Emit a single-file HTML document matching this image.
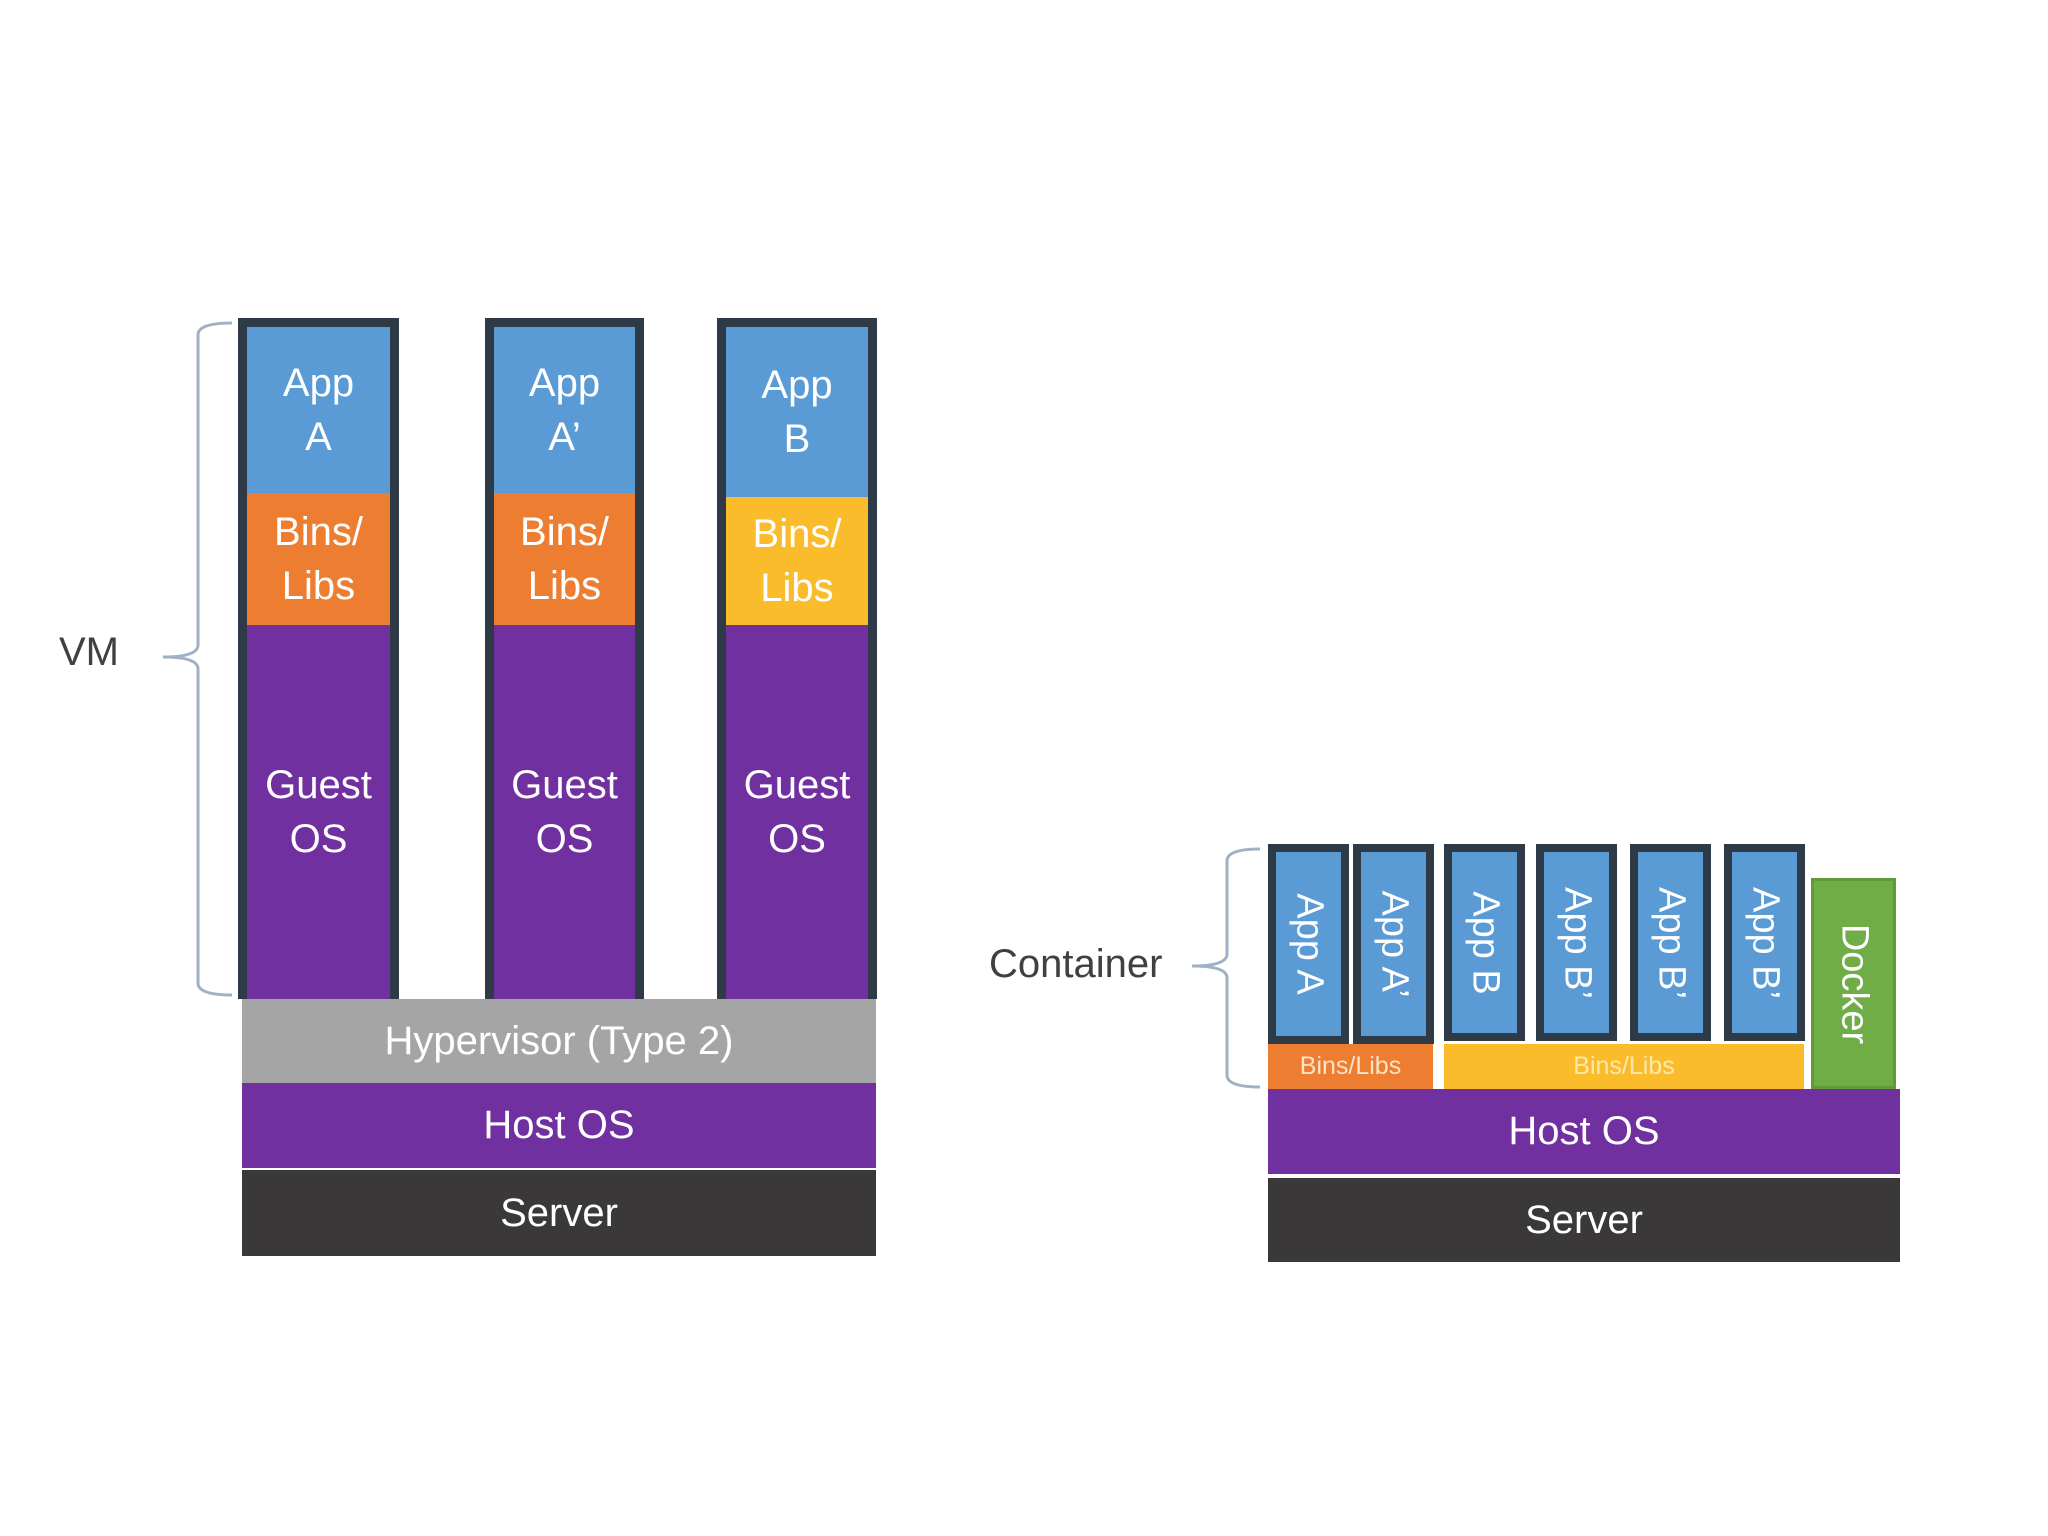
<!DOCTYPE html>
<html><head><meta charset="utf-8"><style>
body{margin:0;width:2048px;height:1536px;background:#fff;position:relative;overflow:hidden;font-family:"Liberation Sans",sans-serif}
.a{position:absolute;box-sizing:border-box}
.col{position:absolute;box-sizing:border-box;border:9px solid #2e3b46;border-bottom:none;background:#7030a0}
.blk{position:absolute;left:0;right:0;color:#fff;font-size:40px;text-align:center;display:flex;align-items:center;justify-content:center;line-height:54px}
.bar{position:absolute;color:#fff;font-size:40px;display:flex;align-items:center;justify-content:center}
.cc{position:absolute;box-sizing:border-box;border:8px solid #2e3b46;background:#5b9bd5}
.vt{position:absolute;left:50%;top:50%;transform:translate(-50%,-50%) rotate(90deg);white-space:nowrap;color:#fff;font-size:38px}
</style></head><body>
<!-- VM side -->
<div class="col" style="left:238px;top:318px;width:161px;height:681px">
 <div class="blk" style="top:0;height:166px;background:#5b9bd5">App<br>A</div>
 <div class="blk" style="top:166px;height:132px;background:#ed7d31">Bins/<br>Libs</div>
 <div class="blk" style="top:298px;bottom:0;background:#7030a0">Guest<br>OS</div>
</div>
<div class="col" style="left:485px;top:318px;width:159px;height:681px">
 <div class="blk" style="top:0;height:166px;background:#5b9bd5">App<br>A’</div>
 <div class="blk" style="top:166px;height:132px;background:#ed7d31">Bins/<br>Libs</div>
 <div class="blk" style="top:298px;bottom:0;background:#7030a0">Guest<br>OS</div>
</div>
<div class="col" style="left:717px;top:318px;width:160px;height:681px">
 <div class="blk" style="top:0;height:170px;background:#5b9bd5">App<br>B</div>
 <div class="blk" style="top:170px;height:128px;background:#fbbc2c">Bins/<br>Libs</div>
 <div class="blk" style="top:298px;bottom:0;background:#7030a0">Guest<br>OS</div>
</div>
<div class="bar" style="left:242px;top:999px;width:634px;height:84px;background:#a5a5a5">Hypervisor (Type 2)</div>
<div class="bar" style="left:242px;top:1083px;width:634px;height:85px;background:#7030a0">Host OS</div>
<div class="bar" style="left:242px;top:1170px;width:634px;height:86px;background:#3a3838">Server</div>
<div class="a" style="left:59px;top:630px;font-size:40px;color:#404040">VM</div>
<svg class="a" style="left:0;top:0" width="2048" height="1536">
 <path d="M232 323 Q198 323 198 335 L198 645 Q198 657 163 657 Q198 657 198 669 L198 983 Q198 995 232 995" fill="none" stroke="#9fb1c4" stroke-width="3"/>
 <path d="M1260 849 Q1227 849 1227 861 L1227 954 Q1227 966 1192 966 Q1227 966 1227 978 L1227 1075 Q1227 1087 1260 1087" fill="none" stroke="#9fb1c4" stroke-width="3"/>
</svg>
<!-- Container side -->
<div class="cc" style="left:1268px;top:844px;width:81px;height:200px"><div class="vt">App A</div></div>
<div class="cc" style="left:1353px;top:844px;width:81px;height:200px"><div class="vt">App A’</div></div>
<div class="cc" style="left:1444px;top:844px;width:81px;height:197px"><div class="vt">App B</div></div>
<div class="cc" style="left:1536px;top:844px;width:81px;height:197px"><div class="vt">App B’</div></div>
<div class="cc" style="left:1630px;top:844px;width:81px;height:197px"><div class="vt">App B’</div></div>
<div class="cc" style="left:1724px;top:844px;width:81px;height:197px"><div class="vt">App B’</div></div>
<div class="a" style="left:1811px;top:878px;width:85px;height:211px;background:#70ad47;border:3px solid #5f9a3b"><div class="vt">Docker</div></div>
<div class="bar" style="left:1268px;top:1044px;width:165px;height:45px;background:#ed7d31;font-size:25px;color:#fde3c8">Bins/Libs</div>
<div class="bar" style="left:1444px;top:1044px;width:360px;height:45px;background:#fbbc2c;font-size:25px;color:#fde9b0">Bins/Libs</div>
<div class="bar" style="left:1268px;top:1089px;width:632px;height:85px;background:#7030a0">Host OS</div>
<div class="bar" style="left:1268px;top:1178px;width:632px;height:84px;background:#3a3838">Server</div>
<div class="a" style="left:989px;top:942px;font-size:40px;color:#404040">Container</div>
</body></html>
